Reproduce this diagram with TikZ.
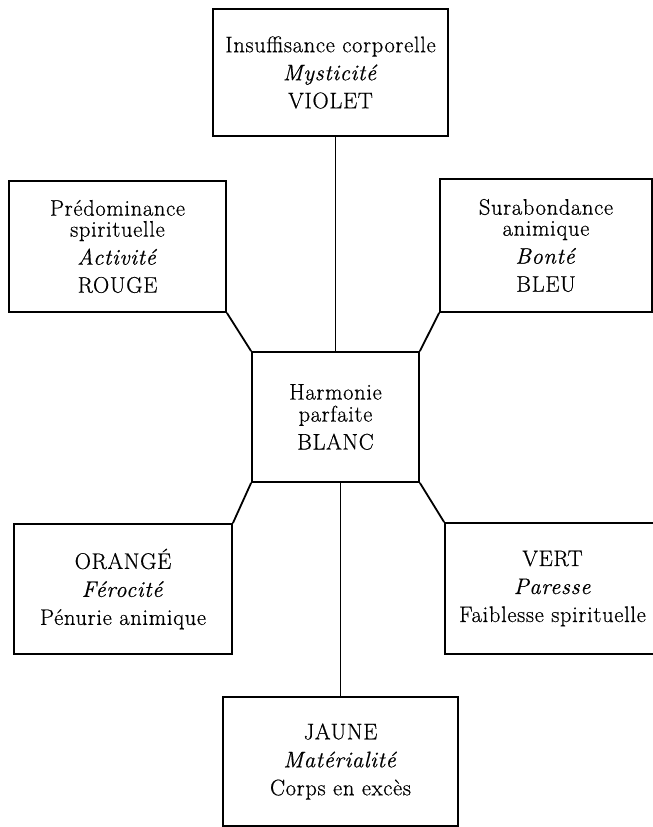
\documentclass[tikz,border=0pt]{standalone}
\usepackage{fontspec}
\newfontfamily\scanfont{Latin Modern Roman}[FakeBold=0.6, LetterSpace=3]
\tikzset{
  box/.style={draw, line width=1.8pt, rectangle, inner sep=0pt, align=center,
    font=\scanfont\fontsize{22.5}{28}\selectfont},
  link/.style={line width=1.8pt}
}
\begin{document}
\begin{tikzpicture}[x=1pt,y=-1pt]
\useasboundingbox (0,0) rectangle (653,827);
\node[box, minimum width=235pt, minimum height=127pt] (violet) at (330.5,72.5)
  {Insuffisance corporelle\\\textit{Mysticité}\\VIOLET};
\node[box, minimum width=217pt, minimum height=131pt] (rouge) at (117.5,246.5)
  {Prédominance\\[-7pt]spirituelle\\\textit{Activité}\\ROUGE};
\node[box, minimum width=212pt, minimum height=133pt] (bleu) at (546,245.5)
  {Surabondance\\[-7pt]animique\\\textit{Bonté}\\BLEU};
\node[box, minimum width=167pt, minimum height=130pt] (blanc) at (335.5,417)
  {Harmonie\\[-6pt]parfaite\\BLANC};
\node[box, minimum width=218pt, minimum height=130pt] (orange) at (123,589)
  {ORANGÉ\\\textit{Férocité}\\Pénurie animique};
\node[box, minimum width=215pt, minimum height=131pt] (vert) at (552.5,588.5)
  {VERT\\\textit{Paresse}\\Faiblesse spirituelle};
\node[box, minimum width=235pt, minimum height=129pt] (jaune) at (340.5,761.5)
  {JAUNE\\\textit{Matérialité}\\Corps en excès};
\draw[link] (violet.south -| blanc.north) -- (blanc.north);
\draw[link] (rouge.south east) -- (blanc.north west);
\draw[link] (bleu.south west) -- (blanc.north east);
\draw[link] (blanc.south west) -- (orange.north east);
\draw[link] (blanc.south east) -- (vert.north west);
\draw[link] (blanc.south -| jaune.north) -- (jaune.north);
\end{tikzpicture}
\end{document}
